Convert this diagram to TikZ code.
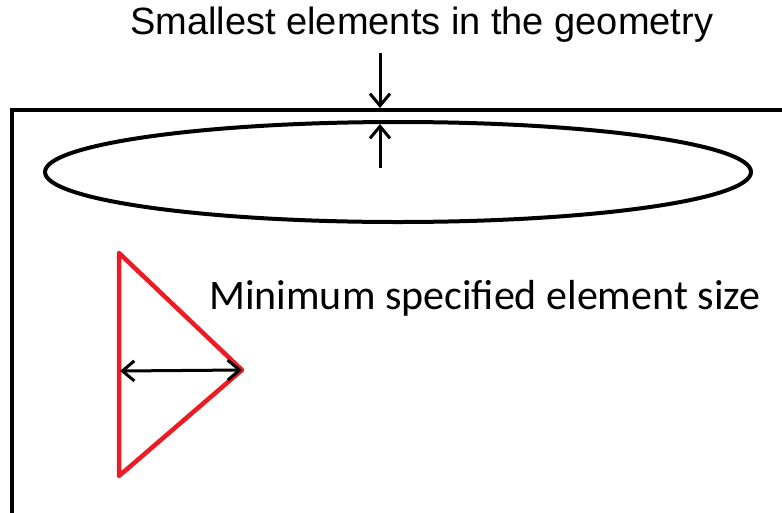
\documentclass[tikz,border=0pt]{standalone}
\usepackage{fontspec}
\setmainfont{Liberation Sans}
\newfontfamily\calib{Carlito}
\usetikzlibrary{arrows.meta}
\definecolor{paintred}{HTML}{ED1C24}
\begin{document}
\begin{tikzpicture}[x=1pt,y=-1pt,
  thick line/.style={line width=4.5pt},
  dimarrow/.style={line width=3pt,-{Straight Barb[length=12pt,width=20pt,line width=3pt]}},
  dimboth/.style={line width=3pt,{Straight Barb[length=12pt,width=20pt,line width=3pt]}-{Straight Barb[length=12pt,width=20pt,line width=3pt]}},
  lbl/.style={inner sep=0pt,anchor=west}]
\useasboundingbox (0,0) rectangle (782,512);
% box
\draw[thick line] (12,514) -- (12,110) -- (784,110);
% ellipse
\draw[line width=4pt] (398,172) ellipse [x radius=353, y radius=50];
% top dimension arrows
\coordinate (a1) at (380,53);
\coordinate (t1) at (380,108);
\coordinate (a2) at (380,168);
\coordinate (t2) at (380,124);
\draw[dimarrow] (a1) -- (t1);
\draw[dimarrow] (a2) -- (t2);
% triangle
\coordinate (p1) at (119,253);
\coordinate (p2) at (242,370);
\coordinate (p3) at (119,476);
\draw[paintred,line width=4.5pt,line join=round] (p1) -- (p2) -- (p3) -- cycle;
\coordinate (m1) at (120,371);
\draw[dimboth] (m1) -- (p2);
% labels
\node[lbl,font=\fontsize{38}{40}\selectfont] (top) at (130,25) {Smallest elements in the geometry};
\node[lbl,font=\calib\fontsize{42}{44}\selectfont] (mid) at (209,298) {Minimum specified element size};
\end{tikzpicture}
\end{document}
